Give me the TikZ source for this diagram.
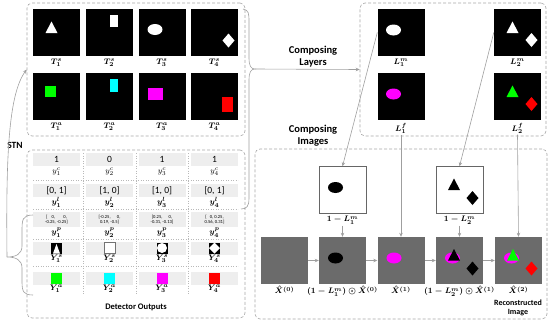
\documentclass[tikz,border=0pt]{standalone}
\usepackage{amsmath,bm}
\usepackage{fontspec}
\setmainfont{Carlito}
\usetikzlibrary{positioning, arrows.meta, fit}
\definecolor{aqua}{RGB}{0,255,255}
\definecolor{fuchsia}{RGB}{255,0,255}
\definecolor{lime}{RGB}{0,255,0}

\begin{document}
\begin{tikzpicture}[x=1pt, y=-1pt]
    \tikzset{
      panel/.style={draw=gray!70, dash pattern=on 3pt off 2pt, rounded corners=5pt, line width=0.6pt, inner sep=0pt},
      img/.style={rectangle, fill=black, minimum size=47pt, inner sep=0pt},
      whiteimg/.style={img, fill=white, draw=black!60, line width=0.5pt},
      canvas/.style={img, fill=black!58},
      sym/.style={font=\fontsize{8}{9}\selectfont\boldmath, inner sep=1pt},
      cell/.style={rectangle, fill=gray!13, minimum width=47pt, minimum height=13pt, inner sep=0pt, font=\fontsize{9.5}{10}\selectfont},
      caption/.style={font=\bfseries\fontsize{10.5}{12}\selectfont, align=center},
      link/.style={draw=gray!75, line width=0.6pt, -{Stealth[length=4pt,width=3.5pt]}},
      bracket/.style={draw=gray!75, line width=0.6pt},
      gridline/.style={draw=gray!55, dotted, line width=0.5pt},
      ovl/.pic={\fill (0,0) ellipse [x radius=7.5pt, y radius=5.5pt];},
      tri/.pic={\fill (-6,5.5) -- (6,5.5) -- (0,-6) -- cycle;},
      dia/.pic={\fill (0,-7) -- (6,0) -- (0,7) -- (-6,0) -- cycle;}
    }
    \useasboundingbox (0,0) rectangle (550,322);

    % Panels
    \node[panel, fit={(27,3) (245,136)}] (tmpl) {};
    \node[panel, fit={(27,150) (245,318)}] (det) {};
    \node[panel, fit={(360,3) (546,136)}] (layers) {};
    \node[panel, fit={(255,149) (547,319)}] (comp) {};

    % Templates, row 1
    \node[img] (ts1) at (56.5,32.5) {};
    \node[img] (ts2) at (109.5,32.5) {};
    \node[img] (ts3) at (162,32.5) {};
    \node[img] (ts4) at (214.5,32.5) {};
    \node[sym, below=1.5pt of ts1] (ts1t) {$T^s_1$};
    \node[sym, below=1.5pt of ts2] (ts2t) {$T^s_2$};
    \node[sym, below=1.5pt of ts3] (ts3t) {$T^s_3$};
    \node[sym, below=1.5pt of ts4] (ts4t) {$T^s_4$};
    \pic[white] at ([shift={(-5,-5)}]ts1.center) {tri};
    \fill[white] ([shift={(0,-17.5)}]ts2.center) rectangle +(8.5,12);
    \pic[white] at ([shift={(-7,-3)}]ts3.center) {ovl};
    \pic[white] at ([shift={(14,8)}]ts4.center) {dia};

    % Templates, row 2
    \node[img] (ta1) at (56.5,96.5) {};
    \node[img] (ta2) at (109.5,96.5) {};
    \node[img] (ta3) at (162,96.5) {};
    \node[img] (ta4) at (214.5,96.5) {};
    \node[sym, below=1.5pt of ta1] (ta1t) {$T^a_1$};
    \node[sym, below=1.5pt of ta2] (ta2t) {$T^a_2$};
    \node[sym, below=1.5pt of ta3] (ta3t) {$T^a_3$};
    \node[sym, below=1.5pt of ta4] (ta4t) {$T^a_4$};
    \fill[lime] ([shift={(-11.5,-10.5)}]ta1.center) rectangle +(11,11);
    \fill[aqua] ([shift={(0,-17.5)}]ta2.center) rectangle +(8.5,13);
    \fill[fuchsia] ([shift={(-14.5,-8.5)}]ta3.center) rectangle +(15,12);
    \fill[red] ([shift={(7.5,0.5)}]ta4.center) rectangle +(11,15);

    % Detector outputs
    \node[cell] (conf1) at (56.5,159.5) {1};
    \node[cell] (conf2) at (109.5,159.5) {0};
    \node[cell] (conf3) at (162,159.5) {1};
    \node[cell] (conf4) at (214.5,159.5) {1};
    \node[sym, font=\fontsize{8}{9}\selectfont] (conf1t) at (56.5,172) {$y^c_1$};
    \node[sym, font=\fontsize{8}{9}\selectfont] (conf2t) at (109.5,172) {$y^c_2$};
    \node[sym, font=\fontsize{8}{9}\selectfont] (conf3t) at (162,172) {$y^c_3$};
    \node[sym, font=\fontsize{8}{9}\selectfont] (conf4t) at (214.5,172) {$y^c_4$};

    \node[cell] (loc1) at (56.5,190.5) {[0, 1]};
    \node[cell] (loc2) at (109.5,190.5) {[1, 0]};
    \node[cell] (loc3) at (162,190.5) {[1, 0]};
    \node[cell] (loc4) at (214.5,190.5) {[0, 1]};
    \node[sym] (loc1t) at (56.5,202.5) {$y^l_1$};
    \node[sym] (loc2t) at (109.5,202.5) {$y^l_2$};
    \node[sym] (loc3t) at (162,202.5) {$y^l_3$};
    \node[sym] (loc4t) at (214.5,202.5) {$y^l_4$};

    \node[cell, minimum height=15pt, align=center, font=\fontsize{4.6}{5.4}\selectfont] (pose1) at (56.5,219.5) {[~~~~0,~~~~~~~~0,\\-0.25, -0.25]};
    \node[cell, minimum height=15pt, align=center, font=\fontsize{4.6}{5.4}\selectfont] (pose2) at (109.5,219.5) {[-0.25,~~~~~~0,\\0.19, -0.5]};
    \node[cell, minimum height=15pt, align=center, font=\fontsize{4.6}{5.4}\selectfont] (pose3) at (162,219.5) {[0.25,~~~~~~0,\\-0.31, -0.13]};
    \node[cell, minimum height=15pt, align=center, font=\fontsize{4.6}{5.4}\selectfont] (pose4) at (214.5,219.5) {[~~~0, 0.25,\\0.56, 0.31]};
    \node[sym] (pose1t) at (56.5,232.5) {$y^p_1$};
    \node[sym] (pose2t) at (109.5,232.5) {$y^p_2$};
    \node[sym] (pose3t) at (162,232.5) {$y^p_3$};
    \node[sym] (pose4t) at (214.5,232.5) {$y^p_4$};

    \node[cell] (shape1) at (56.5,248) {};
    \node[cell] (shape2) at (109.5,248) {};
    \node[cell] (shape3) at (162,248) {};
    \node[cell] (shape4) at (214.5,248) {};
    \node[sym] (shape1t) at (56.5,258.5) {$Y^s_1$};
    \node[sym] (shape2t) at (109.5,258.5) {$Y^s_2$};
    \node[sym] (shape3t) at (162,258.5) {$Y^s_3$};
    \node[sym] (shape4t) at (214.5,258.5) {$Y^s_4$};
    \begin{scope}[shift={(shape1.center)}]
      \fill (-5.5,-5.5) rectangle (5.5,5.5);
      \fill[white] (-3.5,5.5) -- (3.5,5.5) -- (0,-4) -- cycle;
    \end{scope}
    \draw[black!55, fill=white, line width=0.5pt] ([shift={(-5.5,-5.5)}]shape2.center) rectangle +(11,11);
    \begin{scope}[shift={(shape3.center)}]
      \fill (-5.5,-5.5) rectangle (5.5,5.5);
      \fill[white] (0,0) circle (5pt);
    \end{scope}
    \begin{scope}[shift={(shape4.center)}]
      \fill (-5.5,-5.5) rectangle (5.5,5.5);
      \fill[white] (0,-5.5) -- (5.5,0) -- (0,5.5) -- (-5.5,0) -- cycle;
    \end{scope}

    \node[cell] (app1) at (56.5,278) {};
    \node[cell] (app2) at (109.5,278) {};
    \node[cell] (app3) at (162,278) {};
    \node[cell] (app4) at (214.5,278) {};
    \node[sym] (app1t) at (56.5,288.5) {$Y^a_1$};
    \node[sym] (app2t) at (109.5,288.5) {$Y^a_2$};
    \node[sym] (app3t) at (162,288.5) {$Y^a_3$};
    \node[sym] (app4t) at (214.5,288.5) {$Y^a_4$};
    \fill[lime] ([shift={(-5.5,-5.5)}]app1.center) rectangle +(11,11);
    \fill[aqua] ([shift={(-5.5,-5.5)}]app2.center) rectangle +(11,11);
    \fill[fuchsia] ([shift={(-5.5,-5.5)}]app3.center) rectangle +(11,11);
    \fill[red] ([shift={(-5.5,-5.5)}]app4.center) rectangle +(11,11);

    % dotted grid
    \draw[gridline] (33,180.5) -- (238,180.5);
    \draw[gridline] (33,209.5) -- (238,209.5);
    \draw[gridline] (33,239) -- (238,239);
    \draw[gridline] (33,266.5) -- (238,266.5);
    \draw[gridline] (83,153) -- (83,295);
    \draw[gridline] (136,153) -- (136,295);
    \draw[gridline] (188.5,153) -- (188.5,295);

    \node[caption, font=\bfseries\fontsize{8.5}{10}\selectfont] (detlbl) at (136,307) {Detector Outputs};

    % Layers
    \node[img] (lm1) at (401,32.5) {};
    \node[img] (lm2) at (517.5,32.5) {};
    \node[img] (lf1) at (401,96.5) {};
    \node[img] (lf2) at (517.5,96.5) {};
    \node[sym, below=1.5pt of lm1] (lm1t) {$L^m_1$};
    \node[sym, below=1.5pt of lm2] (lm2t) {$L^m_2$};
    \node[sym, below=1.5pt of lf1] (lf1t) {$L^f_1$};
    \node[sym, below=1.5pt of lf2] (lf2t) {$L^f_2$};
    \pic[white] at ([shift={(-7.5,-2.5)}]lm1.center) {ovl};
    \pic[white] at ([shift={(-5,-5)}]lm2.center) {tri};
    \pic[white] at ([shift={(14,7.5)}]lm2.center) {dia};
    \pic[fuchsia] at ([shift={(-7.5,-2.5)}]lf1.center) {ovl};
    \pic[lime] at ([shift={(-5,-5)}]lf2.center) {tri};
    \pic[red] at ([shift={(14,7.5)}]lf2.center) {dia};

    % Composition
    \node[whiteimg] (w1) at (342.5,190) {};
    \node[whiteimg] (w2) at (459.5,190) {};
    \node[sym, below=1.5pt of w1] (w1t) {$1-L^m_1$};
    \node[sym, below=1.5pt of w2] (w2t) {$1-L^m_2$};
    \pic[black] at ([shift={(-7,-2.5)}]w1.center) {ovl};
    \pic[black] at ([shift={(-5.5,-5.5)}]w2.center) {tri};
    \pic[black] at ([shift={(13,8)}]w2.center) {dia};

    \node[canvas] (x0) at (284.5,260.5) {};
    \node[canvas] (x0m) at (342.5,260.5) {};
    \node[canvas] (x1) at (401,260.5) {};
    \node[canvas] (x1m) at (459.5,260.5) {};
    \node[canvas] (x2) at (518.5,260.5) {};
    \node[sym, below=1pt of x0] (x0t) {$\hat{X}^{(0)}$};
    \node[sym, below=1pt of x0m] (x0mt) {$(1-L^m_1)\odot\hat{X}^{(0)}$};
    \node[sym, below=1pt of x1] (x1t) {$\hat{X}^{(1)}$};
    \node[sym, below=1pt of x1m] (x1mt) {$(1-L^m_2)\odot\hat{X}^{(1)}$};
    \node[sym, below=1pt of x2] (x2t) {$\hat{X}^{(2)}$};
    \pic[black] at ([shift={(-7,-2.5)}]x0m.center) {ovl};
    \pic[fuchsia] at ([shift={(-7,-2.5)}]x1.center) {ovl};
    \pic[fuchsia] at ([shift={(-7,-2.5)}]x1m.center) {ovl};
    \pic[black] at ([shift={(-5.5,-5.5)}]x1m.center) {tri};
    \pic[black] at ([shift={(13,8)}]x1m.center) {dia};
    \pic[fuchsia] at ([shift={(-7,-2.5)}]x2.center) {ovl};
    \pic[lime] at ([shift={(-5.5,-5.5)}]x2.center) {tri};
    \pic[red] at ([shift={(13,8)}]x2.center) {dia};

    \node[caption, font=\bfseries\fontsize{8}{9.5}\selectfont] (reclbl) at (518,308) {Reconstructed\\Image};

    % Captions
    \node[caption] (laylbl) at (313,57) {Composing\\Layers};
    \node[caption] (imglbl) at (313,136) {Composing\\Images};
    \node[caption, font=\bfseries\fontsize{9.5}{11}\selectfont] (stnlbl) at (15,145) {STN};

    % Braces
    \coordinate (stntip) at (7,257);
    \coordinate (laytip) at (255,69);
    \draw[bracket] (33,215) .. controls (22,215) and (22,220) .. (22,232) -- (22,246)
      .. controls (22,254) and (16,257) .. (stntip)
      .. controls (16,257) and (22,260) .. (22,268) -- (22,282)
      .. controls (22,292) and (24,295) .. (33,295);
    \draw[bracket] (243,9) .. controls (249,10) and (249,14) .. (249,22) -- (249,58)
      .. controls (249,66) and (251,69) .. (laytip)
      .. controls (251,69) and (249,72) .. (249,80) -- (249,198)
      .. controls (249,206) and (247,209) .. (241,209);

    % Arrows
    \draw[link] (stntip) .. controls (6,160) and (8,95) .. (tmpl.west);
    \draw[link] (laytip) -- (layers.west);
    \draw[link] (lm1.west) -- (w1.north);
    \draw[link] (lm2.west) -- (w2.north);
    \draw[link] (lf1t.south) -- (x1.north);
    \draw[link] (lf2t.south) -- (x2.north);
    \draw[link] (w1t.south) -- (x0m.north);
    \draw[link] (w2t.south) -- (x1m.north);
    \draw[link] (x0) -- (x0m);
    \draw[link] (x0m) -- (x1);
    \draw[link] (x1) -- (x1m);
    \draw[link] (x1m) -- (x2);
\end{tikzpicture}
\end{document}
